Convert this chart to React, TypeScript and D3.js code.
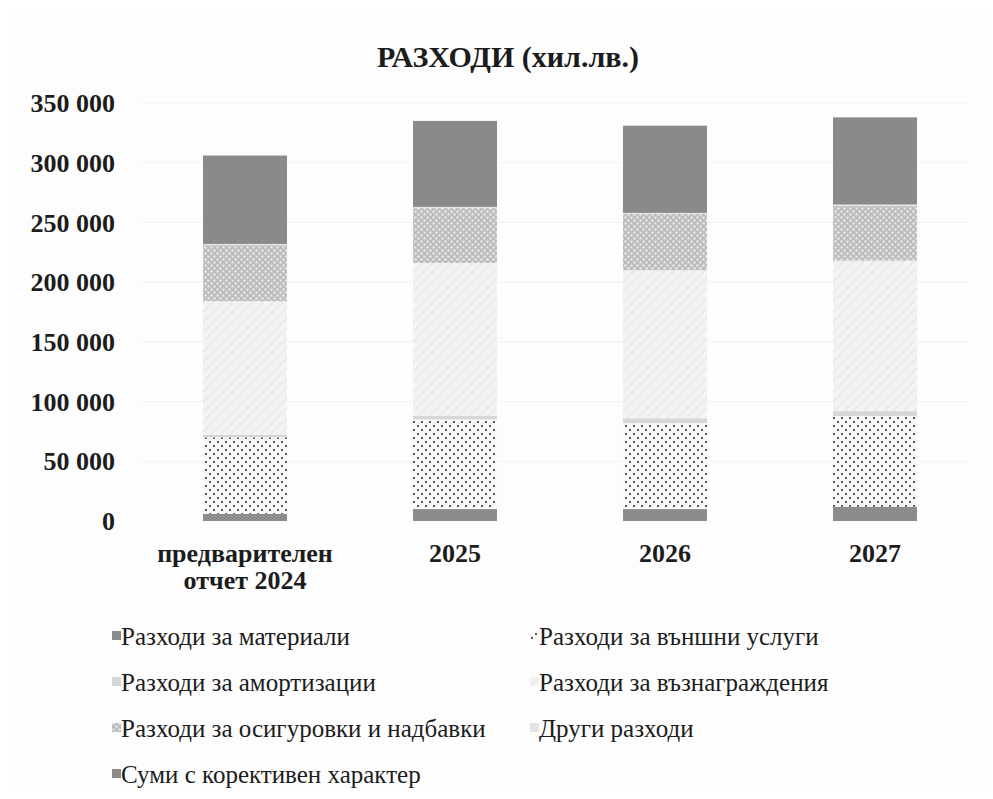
import React, { useEffect, useRef } from "react";
import * as d3 from "d3";

const categories = ["предварителен|отчет 2024", "2025", "2026", "2027"];
const seriesNames = [
  "Разходи за материали",
  "Разходи за външни услуги",
  "Разходи за амортизации",
  "Разходи за възнаграждения",
  "Разходи за осигуровки и надбавки",
  "Други разходи",
  "Суми с корективен характер",
];
const materials = [6000, 10000, 10000, 12000];
const externalServices = [64000, 75000, 72000, 76000];
const depreciation = [2000, 3000, 4000, 4000];
const salaries = [112000, 128000, 124000, 126000];
const insurance = [47000, 46000, 47000, 46000];
const otherCosts = [1000, 1000, 1000, 1000];
const corrective = [74000, 72000, 73000, 73000];
const yTicks = [0, 50000, 100000, 150000, 200000, 250000, 300000, 350000];

const fills = ["#8c8c8c", "url(#pDots)", "#d6d6d6", "url(#pLight)", "url(#pCheck)", "#e4e4e4", "#8a8a8a"];
const font = "Liberation Serif, Times New Roman, serif";

export default function App() {
  const ref = useRef<SVGSVGElement>(null);

  useEffect(() => {
    const width = 993, height = 799;
    const margin = { top: 103, left: 140, right: 13, bottom: 279 };
    const svg = d3.select(ref.current);
    svg.selectAll("*").remove();

    // patterns that mimic the scanned fills
    const defs = svg.append("defs");
    const dots = defs.append("pattern").attr("id", "pDots").attr("patternUnits", "userSpaceOnUse")
      .attr("width", 8).attr("height", 8);
    dots.append("rect").attr("width", 8).attr("height", 8).attr("fill", "#fafafa");
    dots.append("path").attr("d", "M1,1l2,2M3,1l-2,2M5,5l2,2M7,5l-2,2").attr("stroke", "#444").attr("stroke-width", 0.9);
    const light = defs.append("pattern").attr("id", "pLight").attr("patternUnits", "userSpaceOnUse")
      .attr("width", 10).attr("height", 10);
    light.append("rect").attr("width", 10).attr("height", 10).attr("fill", "#f3f3f3");
    light.append("path").attr("d", "M0,5l5,-5M5,10l5,-5").attr("stroke", "#e8e8e8").attr("stroke-width", 1.5);
    const check = defs.append("pattern").attr("id", "pCheck").attr("patternUnits", "userSpaceOnUse")
      .attr("width", 6).attr("height", 6);
    check.append("rect").attr("width", 6).attr("height", 6).attr("fill", "#bdbdbd");
    check.append("circle").attr("cx", 1.5).attr("cy", 1.5).attr("r", 1.3).attr("fill", "#e8e8e8");
    check.append("circle").attr("cx", 4.5).attr("cy", 4.5).attr("r", 1.3).attr("fill", "#e8e8e8");

    svg.append("rect").attr("width", width).attr("height", height).attr("fill", "#fdfdfd");

    const x = d3.scaleBand().domain(categories).range([margin.left, width - margin.right])
      .paddingInner(0.6).paddingOuter(0.3);
    const y = d3.scaleLinear().domain([0, 350000]).range([height - margin.bottom + 1, margin.top]);

    // faint grid
    svg.append("g").selectAll("line").data(yTicks.slice(1)).join("line")
      .attr("x1", margin.left).attr("x2", width - margin.right - 10)
      .attr("y1", d => y(d)).attr("y2", d => y(d))
      .attr("stroke", "#f3f3f3");

    // y labels
    svg.append("g").selectAll("text").data(yTicks).join("text")
      .attr("x", 115).attr("y", d => y(d)).attr("dy", "0.35em")
      .attr("text-anchor", "end")
      .attr("font-family", font).attr("font-weight", "bold")
      .attr("font-size", 26).attr("fill", "#1c1c1c")
      .text(d => d3.format(",")(d).replace(/,/g, " "));

    // stacked bars
    const data = categories.map((c, i) => ({
      cat: c,
      s0: materials[i], s1: externalServices[i], s2: depreciation[i], s3: salaries[i],
      s4: insurance[i], s5: otherCosts[i], s6: corrective[i],
    }));
    const keys = ["s0", "s1", "s2", "s3", "s4", "s5", "s6"];
    const stacked = d3.stack<any>().keys(keys)(data);
    svg.append("g").selectAll("g").data(stacked).join("g")
      .attr("fill", (_, i) => fills[i])
      .selectAll("rect").data(d => d).join("rect")
      .attr("x", d => x(d.data.cat)!)
      .attr("width", x.bandwidth())
      .attr("y", d => y(d[1]))
      .attr("height", d => y(d[0]) - y(d[1]));

    // x labels
    const xl = svg.append("g").selectAll("text").data(categories).join("text")
      .attr("x", d => x(d)! + x.bandwidth() / 2).attr("y", 562)
      .attr("text-anchor", "middle")
      .attr("font-family", font).attr("font-weight", "bold")
      .attr("font-size", 26).attr("fill", "#1c1c1c");
    xl.selectAll("tspan").data(d => d.split("|")).join("tspan")
      .attr("x", function () { return (this.parentNode as SVGTextElement).getAttribute("x"); })
      .attr("dy", (_, i) => (i === 0 ? 0 : 27))
      .text(d => d);

    // title
    svg.append("text").attr("x", 508).attr("y", 67).attr("text-anchor", "middle")
      .attr("font-family", font).attr("font-weight", "bold")
      .attr("font-size", 30).attr("fill", "#1c1c1c")
      .text("РАЗХОДИ (хил.лв.)");

    // legend
    const lg = svg.append("g").selectAll("g").data(seriesNames).join("g")
      .attr("transform", (_, i) => `translate(${i % 2 === 0 ? 112 : 530},${636 + Math.floor(i / 2) * 46})`);
    lg.append("rect").attr("x", 0).attr("y", -5).attr("width", 9).attr("height", 9)
      .attr("fill", (_, i) => fills[i]);
    lg.append("text").attr("x", 9).attr("dy", "0.35em")
      .attr("font-family", font).attr("font-size", 25).attr("fill", "#1c1c1c")
      .text(d => d);
  }, []);

  return <svg ref={ref} width={993} height={799} style={{ display: "block", margin: -8 }} />;
}
